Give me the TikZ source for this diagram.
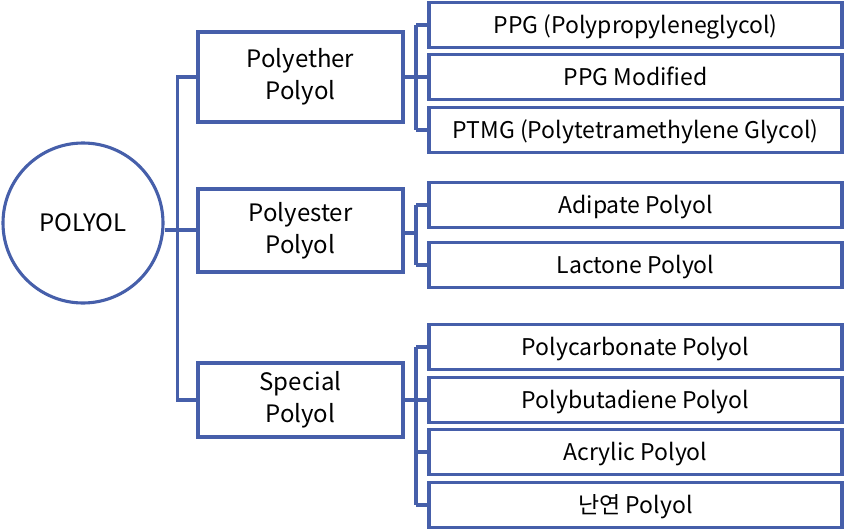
\documentclass[tikz,border=0pt]{standalone}
\usepackage{fontspec}
\setmainfont{Noto Sans CJK KR}
\usetikzlibrary{positioning}
\definecolor{polyblue}{RGB}{70,95,170}

\begin{document}
\begin{tikzpicture}[x=1pt,y=-1pt,
    line/.style={draw=polyblue,line width=3.1pt},
    group/.style={line,rectangle,minimum width=205pt,align=center,
        inner sep=0pt,font={\fontsize{24}{32}\selectfont}},
    leaf/.style={line,rectangle,minimum width=413pt,minimum height=45pt,
        inner sep=0pt,text height=17pt,text depth=0pt,
        font={\fontsize{23}{24}\selectfont}},
    ]
    \useasboundingbox (0,0) rectangle (845,530);

    % Root
    \node[line,circle,minimum size=160pt,inner sep=0pt,text height=17pt,text depth=0pt,
        font={\fontsize{24}{24}\selectfont}] (polyol) at (83,223) {POLYOL};

    % Groups
    \node[group,minimum height=90pt] (ether) at (300.5,77) {Polyether\\Polyol};
    \node[group,minimum height=83pt] (ester) at (300.5,230.5) {Polyester\\Polyol};
    \node[group,minimum height=74pt] (special) at (300.5,400) {Special\\Polyol};

    % Leaves
    \node[leaf] (ppg) at (635.5,25) {PPG (Polypropyleneglycol)};
    \node[leaf] (ppgmod) at (635.5,77) {PPG Modified};
    \node[leaf] (ptmg) at (635.5,130) {PTMG (Polytetramethylene Glycol)};
    \node[leaf] (adipate) at (635.5,205) {Adipate Polyol};
    \node[leaf] (lactone) at (635.5,265) {Lactone Polyol};
    \node[leaf] (pcd) at (635.5,347) {Polycarbonate Polyol};
    \node[leaf] (pbd) at (635.5,400) {Polybutadiene Polyol};
    \node[leaf] (acryl) at (635.5,452) {Acrylic Polyol};
    \node[leaf] (fr) at (635.5,505) {난연 Polyol};

    % Trunks
    \coordinate (trunk) at (177.5,0);
    \coordinate (sub) at (416,0);

    \draw[line] (ether.west) -- (trunk |- ether.west) -- (trunk |- special.west) -- (special.west);
    \draw[line] (polyol.east |- 0,230) -- (ester.west |- 0,230);

    \draw[line] (ether.east) -- (sub |- ether.east);
    \draw[line] (ester.east |- 0,233) -- (sub |- 0,233);
    \draw[line] (special.east) -- (sub |- special.east);

    \draw[line] (sub |- ppg.west) -- (sub |- ptmg.west);
    \draw[line] (sub |- adipate.west) -- (sub |- lactone.west);
    \draw[line] (sub |- pcd.west) -- (sub |- fr.west);
    \foreach \n in {ppg,ppgmod,ptmg,adipate,lactone,pcd,pbd,acryl,fr}
        \draw[line] (sub |- \n.west) -- (\n.west);

\end{tikzpicture}
\end{document}
